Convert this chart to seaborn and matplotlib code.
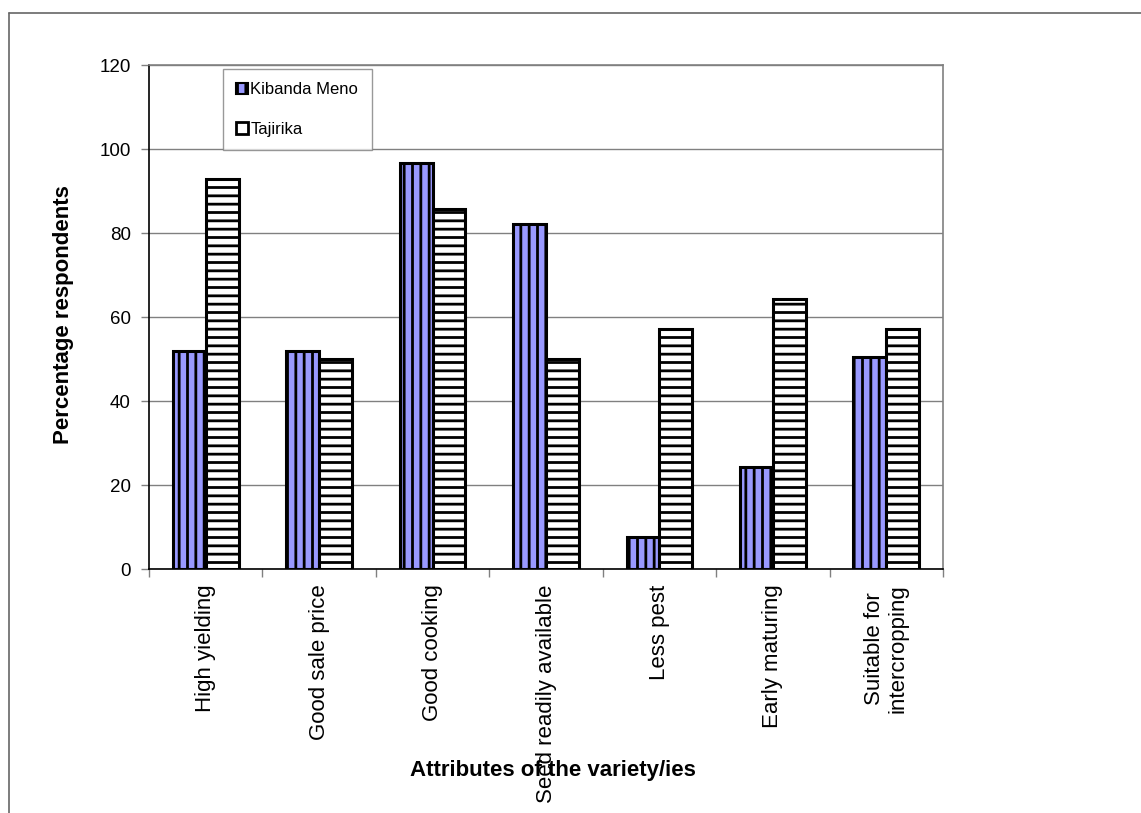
import pandas as pd
import matplotlib.pyplot as plt
import seaborn as sns
from matplotlib.patches import Patch
from matplotlib.lines import Line2D

attributes = ["High yielding", "Good sale price", "Good cooking",
              "Seed readily available", "Less pest", "Early maturing",
              "Suitable for\nintercropping"]
kibanda_meno = [52, 52, 96.7, 82.1, 7.6, 24.3, 50.5]
tajirika = [92.9, 50, 85.7, 50, 57.1, 64.3, 57.1]
varieties = ["Kibanda Meno", "Tajirika"]

df = pd.DataFrame({
    "attribute": attributes * 2,
    "variety": [varieties[0]] * len(attributes) + [varieties[1]] * len(attributes),
    "percent": kibanda_meno + tajirika,
})

sns.set_theme(style="white")
plt.rcParams["font.family"] = ["Liberation Sans", "DejaVu Sans"]
plt.rcParams["hatch.linewidth"] = 2.0
for k in ["text.color", "axes.labelcolor", "xtick.labelcolor", "ytick.labelcolor"]:
    plt.rcParams[k] = "black"

fig = plt.figure(figsize=(11.41, 8.13), dpi=100)
ax = fig.add_axes([0.1306, 0.3001, 0.6959, 0.6199])

colors = {"Kibanda Meno": "#9999FF", "Tajirika": "white"}
sns.barplot(data=df, x="attribute", y="percent", hue="variety",
            palette=colors, saturation=1, width=0.58, ax=ax,
            edgecolor="black", linewidth=2.2, legend=False)

hatches = ["||", "--"]
for cont, h in zip(ax.containers, hatches):
    for bar in cont:
        bar.set_hatch(h)
        bar.set_edgecolor("black")

ax.set_ylim(0, 120)
ax.set_xlim(-0.5, len(attributes) - 0.5)
ax.set_yticks(range(0, 121, 20))
ax.yaxis.grid(True, color="#808080", linewidth=1)
ax.set_axisbelow(True)

for s in ["top", "right"]:
    ax.spines[s].set_color("#808080")
    ax.spines[s].set_linewidth(1.2)
for s in ["left", "bottom"]:
    ax.spines[s].set_color("black")
    ax.spines[s].set_linewidth(1.2)

ax.tick_params(axis="y", direction="out", length=6, width=1, color="#808080",
               labelsize=13.5, pad=7, left=True)
ax.tick_params(axis="x", which="major", length=0, labelsize=16, pad=11)
ax.set_xticks([i + 0.5 for i in range(-1, len(attributes))], minor=True)
ax.tick_params(axis="x", which="minor", direction="out", length=6, width=1,
               color="#808080", bottom=True)
for lbl in ax.get_xticklabels():
    lbl.set_rotation(90)
    lbl.set_ha("center")
    lbl.set_va("top")
    lbl.set_multialignment("center")
    lbl.set_zorder(5)

ax.set_xlabel("Attributes of the variety/ies", fontsize=16, fontweight="bold")
ax.xaxis.set_label_coords(0.509, -0.378)
ax.xaxis.label.set_zorder(1)
ax.set_ylabel("Percentage respondents", fontsize=16, fontweight="bold")
ax.yaxis.set_label_coords(-0.094, 0.504)

handles = [Patch(facecolor="#9999FF", edgecolor="black", hatch="||", linewidth=1.5),
           Patch(facecolor="white", edgecolor="black", linewidth=2)]
leg = ax.legend(handles, varieties, loc="upper left", bbox_to_anchor=(0.093, 0.992),
                fontsize=12, frameon=True, fancybox=False, borderaxespad=0,
                handlelength=0.7, handleheight=0.7, handletextpad=0.15,
                labelspacing=1.45, borderpad=0.8)
leg.get_frame().set_edgecolor("#808080")
leg.get_frame().set_linewidth(1)

# outer chart frame
fig.add_artist(Line2D([9 / 1141, 9 / 1141], [0, 1 - 13 / 813], transform=fig.transFigure,
                      color="#666666", linewidth=1.2))
fig.add_artist(Line2D([9 / 1141, 1], [1 - 13 / 813, 1 - 13 / 813], transform=fig.transFigure,
                      color="#666666", linewidth=1.2))

fig.savefig("out.png", dpi=100)
